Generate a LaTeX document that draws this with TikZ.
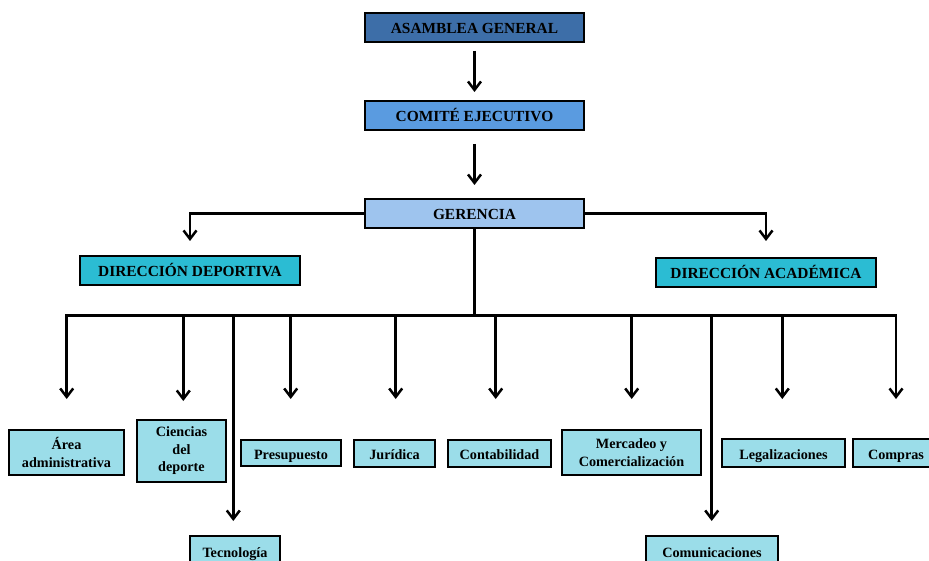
\documentclass[tikz,border=0pt]{standalone}
\usepackage{fontspec}
\setmainfont{Liberation Serif}
\usetikzlibrary{arrows.meta,shadows}
\definecolor{casm}{HTML}{3D6EA8}
\definecolor{ccom}{HTML}{5A9BE0}
\definecolor{cger}{HTML}{9EC4EE}
\definecolor{cdir}{HTML}{2BBCD3}
\definecolor{clow}{HTML}{9BDDE9}
\begin{document}
\begin{tikzpicture}[x=1pt,y=-1pt,
  box/.style={draw=black,line width=2pt,inner sep=0pt,
    font=\bfseries\fontsize{15.4}{17}\selectfont,
    drop shadow={shadow xshift=1.2pt,shadow yshift=-1.2pt,opacity=0.35}},
  one/.style={text height=13pt,text depth=0pt},
  onesm/.style={text height=12.4pt,text depth=0pt},
  multi/.style={align=center},
  small/.style={box,fill=clow,font=\bfseries\fontsize{14.2}{17.5}\selectfont},
  arr/.style={line width=2.5pt,-{Straight Barb[length=8.5pt,width=13pt]}},
  ln/.style={line width=2.5pt}]
\useasboundingbox (0,0) rectangle (929,561);
\clip (0,0) rectangle (929,561);

% top hierarchy
\node[box,one,fill=casm,minimum width=219pt,minimum height=29pt] (asm) at (474.5,27.5) {ASAMBLEA GENERAL};
\node[box,one,fill=ccom,minimum width=219pt,minimum height=29pt] (com) at (474.5,115.5) {COMIT\'E EJECUTIVO};
\node[box,one,fill=cger,minimum width=219pt,minimum height=29pt] (ger) at (474.5,213.5) {GERENCIA};
\node[box,one,fill=cdir,minimum width=220pt,minimum height=29pt] (dd) at (190,270.5) {DIRECCI\'ON DEPORTIVA};
\node[box,one,fill=cdir,minimum width=220pt,minimum height=29pt] (da) at (766,272.5) {DIRECCI\'ON ACAD\'EMICA};

% bottom units
\node[small,multi,minimum width=115pt,minimum height=45pt] (area) at (66.5,452.5) {\'Area\\administrativa};
\node[small,multi,minimum width=89pt,minimum height=62pt] (cien) at (181.5,451) {Ciencias\\del\\deporte};
\node[small,onesm,minimum width=100pt,minimum height=26pt] (pres) at (291,453) {Presupuesto};
\node[small,onesm,minimum width=81pt,minimum height=27pt] (jur) at (394.5,453.5) {Jur\'idica};
\node[small,onesm,minimum width=103pt,minimum height=27pt] (cont) at (499.5,453.5) {Contabilidad};
\node[small,multi,minimum width=139pt,minimum height=45pt] (merc) at (631.5,452.5) {Mercadeo y\\Comercializaci\'on};
\node[small,onesm,minimum width=123pt,minimum height=28pt] (leg) at (783.5,453) {Legalizaciones};
\node[small,onesm,minimum width=86pt,minimum height=28pt] (comp) at (896,453) {Compras};
\node[small,onesm,minimum width=90pt,minimum height=30pt] (tec) at (235,551) {Tecnolog\'ia};
\node[small,onesm,minimum width=132pt,minimum height=30pt] (comu) at (712,551) {Comunicaciones};

% connectors top
\draw[arr,shorten <=8pt,shorten >=8pt] (asm) -- (com);
\draw[arr,shorten <=13pt,shorten >=13pt] (com) -- (ger);
\draw[arr,shorten >=14pt] (ger.west) -| (dd.north);
\draw[arr,shorten >=16pt] (ger.east) -| (da.north);

% bus
\coordinate (d1) at (66.7,315.5);
\coordinate (d2) at (183.3,315.5);
\coordinate (d3) at (233.3,315.5);
\coordinate (d4) at (290.7,315.5);
\coordinate (d5) at (395.7,315.5);
\coordinate (d6) at (495.7,315.5);
\coordinate (d7) at (631.7,315.5);
\coordinate (d8) at (711.7,315.5);
\coordinate (d9) at (782.3,315.5);
\coordinate (d10) at (896,315.5);
\draw[ln] (ger.south) -- (ger.south |- d1);
\draw[ln,line cap=rect] (d1) -- (d10);

% drops
\draw[arr,shorten >=30pt] (d1) -- (d1 |- area.north);
\draw[arr,shorten >=18pt] (d2) -- (d2 |- cien.north);
\draw[arr,shorten >=14pt] (d3) -- (d3 |- tec.north);
\draw[arr,shorten >=40pt] (d4) -- (d4 |- pres.north);
\draw[arr,shorten >=40pt] (d5) -- (d5 |- jur.north);
\draw[arr,shorten >=40pt] (d6) -- (d6 |- cont.north);
\draw[arr,shorten >=30pt] (d7) -- (d7 |- merc.north);
\draw[arr,shorten >=14pt] (d8) -- (d8 |- comu.north);
\draw[arr,shorten >=39pt] (d9) -- (d9 |- leg.north);
\draw[arr,shorten >=39pt] (d10) -- (d10 |- comp.north);
\end{tikzpicture}
\end{document}
